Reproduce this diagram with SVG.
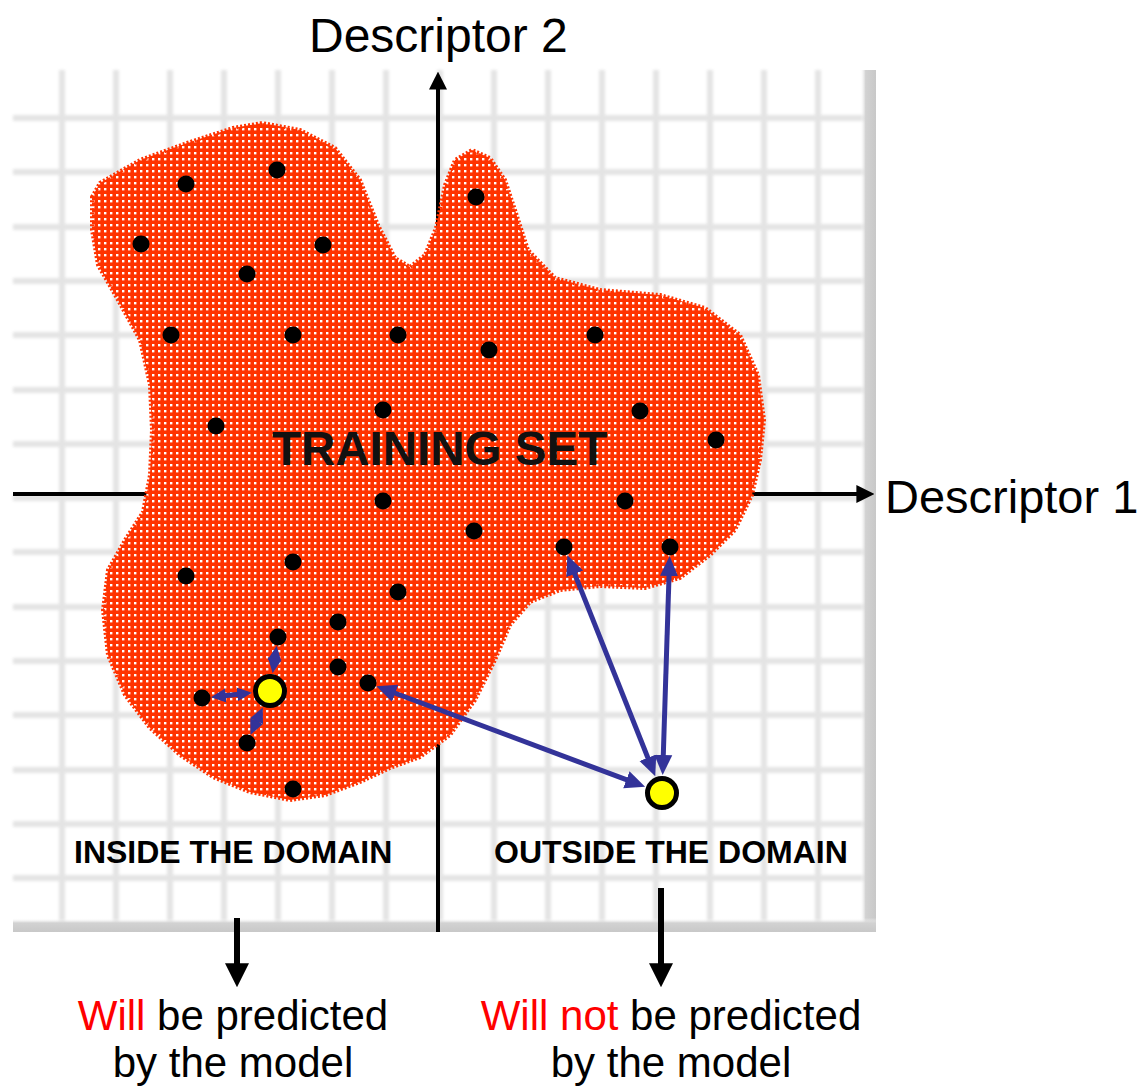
<svg xmlns="http://www.w3.org/2000/svg" width="1140" height="1087" viewBox="0 0 1140 1087">
  <defs>
    <style>
      .lbl { font-family: "Liberation Sans", Arial, sans-serif; fill: #000; }
      .axis-title { font-size: 48px; }
      .domain { font-size: 32px; font-weight: bold; }
      .result { font-size: 42px; text-anchor: middle; }
      .red { fill: #ff0000; }
      .grid line { stroke: #e4e4e4; stroke-width: 6; }
      .axis { stroke: #000; stroke-width: 4; fill: none; }
      .down { stroke: #000; stroke-width: 6; fill: none; }
      .dist { stroke: #333399; stroke-width: 5; fill: none; }
      .pt { fill: #000; }
      .query { fill: #ffff00; stroke: #000; stroke-width: 5; }
    </style>
    <filter id="soft" x="-5%" y="-5%" width="110%" height="110%">
      <feGaussianBlur stdDeviation="1.8"/>
    </filter>
    <pattern id="dots" width="6" height="6" patternUnits="userSpaceOnUse">
      <rect width="6" height="6" fill="#ff3300"/>
      <rect x="2" y="2" width="2.4" height="2.4" fill="#ffffff"/>
    </pattern>
    <linearGradient id="edgeR" x1="0" y1="0" x2="1" y2="0">
      <stop offset="0" stop-color="#ffffff" stop-opacity="0"/>
      <stop offset="0.35" stop-color="#d2d2d2"/>
      <stop offset="1" stop-color="#c8c8c8"/>
    </linearGradient>
    <linearGradient id="edgeB" x1="0" y1="0" x2="0" y2="1">
      <stop offset="0" stop-color="#ffffff" stop-opacity="0"/>
      <stop offset="0.35" stop-color="#d2d2d2"/>
      <stop offset="1" stop-color="#c8c8c8"/>
    </linearGradient>
    <marker id="axHead" viewBox="0 0 10 10" refX="2" refY="5" markerUnits="userSpaceOnUse" markerWidth="18" markerHeight="18" orient="auto">
      <path d="M0,0 L10,5 L0,10 z" fill="#000"/>
    </marker>
    <marker id="downHead" viewBox="0 0 10 10" refX="2" refY="5" markerUnits="userSpaceOnUse" markerWidth="24" markerHeight="24" orient="auto">
      <path d="M0,0 L10,5 L0,10 z" fill="#000"/>
    </marker>
    <marker id="blueHead" viewBox="0 0 20 20" refX="12" refY="10" markerUnits="userSpaceOnUse" markerWidth="20" markerHeight="20" orient="auto-start-reverse">
      <path d="M0,1 L20,10 L0,19 z" fill="#333399"/>
    </marker>
    <marker id="blueHeadSm" viewBox="0 0 15 15" refX="9" refY="7.5" markerUnits="userSpaceOnUse" markerWidth="15" markerHeight="15" orient="auto-start-reverse">
      <path d="M0,0.5 L15,7.5 L0,14.5 z" fill="#333399"/>
    </marker>
  </defs>

  <rect width="1140" height="1087" fill="#ffffff"/>

  <!-- descriptor space: soft grid -->
  <g id="grid">
    <g class="grid" filter="url(#soft)">
      <line x1="62" y1="70" x2="62" y2="925"/>
      <line x1="116" y1="70" x2="116" y2="925"/>
      <line x1="170" y1="70" x2="170" y2="925"/>
      <line x1="224" y1="70" x2="224" y2="925"/>
      <line x1="278" y1="70" x2="278" y2="925"/>
      <line x1="332" y1="70" x2="332" y2="925"/>
      <line x1="386" y1="70" x2="386" y2="925"/>
      <line x1="440" y1="70" x2="440" y2="925"/>
      <line x1="494" y1="70" x2="494" y2="925"/>
      <line x1="548" y1="70" x2="548" y2="925"/>
      <line x1="602" y1="70" x2="602" y2="925"/>
      <line x1="656" y1="70" x2="656" y2="925"/>
      <line x1="710" y1="70" x2="710" y2="925"/>
      <line x1="764" y1="70" x2="764" y2="925"/>
      <line x1="818" y1="70" x2="818" y2="925"/>
      <line x1="13" y1="118" x2="868" y2="118"/>
      <line x1="13" y1="172" x2="868" y2="172"/>
      <line x1="13" y1="227" x2="868" y2="227"/>
      <line x1="13" y1="281" x2="868" y2="281"/>
      <line x1="13" y1="335" x2="868" y2="335"/>
      <line x1="13" y1="390" x2="868" y2="390"/>
      <line x1="13" y1="444" x2="868" y2="444"/>
      <line x1="13" y1="498" x2="868" y2="498"/>
      <line x1="13" y1="552" x2="868" y2="552"/>
      <line x1="13" y1="607" x2="868" y2="607"/>
      <line x1="13" y1="661" x2="868" y2="661"/>
      <line x1="13" y1="715" x2="868" y2="715"/>
      <line x1="13" y1="770" x2="868" y2="770"/>
      <line x1="13" y1="824" x2="868" y2="824"/>
      <line x1="13" y1="878" x2="868" y2="878"/>
    </g>
    <rect x="860" y="70" width="16" height="862" fill="url(#edgeR)"/>
    <rect x="13" y="918" width="863" height="14" fill="url(#edgeB)"/>
  </g>

  <!-- axes -->
  <g id="axes">
    <line class="axis" x1="438" y1="932" x2="438" y2="86" marker-end="url(#axHead)"/>
    <line class="axis" x1="13" y1="494" x2="860" y2="494" marker-end="url(#axHead)"/>
    <text class="lbl axis-title" x="309" y="52">Descriptor 2</text>
    <text class="lbl axis-title" x="885" y="513" style="font-size:47px">Descriptor 1</text>
  </g>

  <!-- training set region -->
  <g id="training-set">
    <path fill="url(#dots)" stroke="#ff3300" stroke-width="4" stroke-dasharray="2 2" stroke-linejoin="round"
      d="M92,197 L100,183 L140,160 L187,143 L233,128 L262,123 L300,130 L335,148 L360,180 L378,225 L395,258 L410,267
         L425,255 L436,228 L445,185 L455,160 L472,150 L490,158 L505,180 L515,210 L528,250 L555,278 L600,290 L660,295
         L705,308 L740,335 L758,375 L764,420 L760,460 L752,495 L735,530 L710,555 L680,578 L645,588 L600,586 L560,590
         L530,602 L510,625 L495,660 L475,700 L450,735 L420,757 L390,768 L360,782 L325,795 L290,800 L250,792 L213,777
         L180,755 L150,728 L125,695 L108,655 L103,610 L108,570 L125,540 L143,512 L150,475 L152,430 L150,385 L140,340
         L118,300 L98,265 L92,230 Z"/>
    <text class="lbl" x="272" y="465" style="font-size:47.5px;font-weight:bold;fill:#111">TRAINING SET</text>
  </g>

  <!-- training compounds -->
  <g id="compounds">
    <circle class="pt" cx="186" cy="184" r="8.5"/>
    <circle class="pt" cx="277" cy="170" r="8.5"/>
    <circle class="pt" cx="476" cy="197" r="8.5"/>
    <circle class="pt" cx="141" cy="244" r="8.5"/>
    <circle class="pt" cx="323" cy="245" r="8.5"/>
    <circle class="pt" cx="247" cy="274" r="8.5"/>
    <circle class="pt" cx="171" cy="335" r="8.5"/>
    <circle class="pt" cx="293" cy="335" r="8.5"/>
    <circle class="pt" cx="398" cy="335" r="8.5"/>
    <circle class="pt" cx="489" cy="350" r="8.5"/>
    <circle class="pt" cx="595" cy="335" r="8.5"/>
    <circle class="pt" cx="216" cy="426" r="8.5"/>
    <circle class="pt" cx="383" cy="410" r="8.5"/>
    <circle class="pt" cx="640" cy="411" r="8.5"/>
    <circle class="pt" cx="716" cy="440" r="8.5"/>
    <circle class="pt" cx="383" cy="501" r="8.5"/>
    <circle class="pt" cx="625" cy="501" r="8.5"/>
    <circle class="pt" cx="474" cy="531" r="8.5"/>
    <circle class="pt" cx="564" cy="547" r="8.5"/>
    <circle class="pt" cx="670" cy="547" r="8.5"/>
    <circle class="pt" cx="293" cy="562" r="8.5"/>
    <circle class="pt" cx="186" cy="576" r="8.5"/>
    <circle class="pt" cx="398" cy="592" r="8.5"/>
    <circle class="pt" cx="338" cy="622" r="8.5"/>
    <circle class="pt" cx="278" cy="637" r="8.5"/>
    <circle class="pt" cx="338" cy="667" r="8.5"/>
    <circle class="pt" cx="368" cy="683" r="8.5"/>
    <circle class="pt" cx="202" cy="698" r="8.5"/>
    <circle class="pt" cx="247" cy="743" r="8.5"/>
    <circle class="pt" cx="293" cy="789" r="8.5"/>
  </g>

  <!-- query compounds -->
  <g id="query-inside">
    <circle class="query" cx="270" cy="691" r="14.5"/>
  </g>
  <g id="query-outside">
    <circle class="query" cx="662" cy="793" r="14.5"/>
  </g>

  <!-- distances from query compounds to their neighbours, and outcome arrows -->
  <g id="connectors">
    <line class="dist" x1="275.8" y1="651.8" x2="273.5" y2="667.3" marker-start="url(#blueHeadSm)" marker-end="url(#blueHeadSm)"/>
    <line class="dist" x1="216.9" y1="696.5" x2="246.1" y2="693.4" marker-start="url(#blueHeadSm)" marker-end="url(#blueHeadSm)"/>
    <line class="dist" x1="253.0" y1="729.3" x2="260.3" y2="713.0" marker-start="url(#blueHeadSm)" marker-end="url(#blueHeadSm)"/>
    <line class="dist" x1="383.9" y1="689.0" x2="637.6" y2="783.9" marker-start="url(#blueHead)" marker-end="url(#blueHead)"/>
    <line class="dist" x1="570.3" y1="562.8" x2="652.3" y2="768.9" marker-start="url(#blueHead)" marker-end="url(#blueHead)"/>
    <line class="dist" x1="669.4" y1="564" x2="662.9" y2="767" marker-start="url(#blueHead)" marker-end="url(#blueHead)"/>
    <line class="down" x1="237" y1="918" x2="237" y2="968" marker-end="url(#downHead)"/>
    <line class="down" x1="661" y1="888" x2="661" y2="968" marker-end="url(#downHead)"/>
  </g>

  <!-- domain labels and outcomes -->
  <g id="inside-label">
    <text class="lbl domain" x="74" y="863">INSIDE THE DOMAIN</text>
    <text class="lbl result" x="233" y="1030"><tspan class="red">Will</tspan> be predicted</text>
    <text class="lbl result" x="233" y="1077">by the model</text>
  </g>
  <g id="outside-label">
    <text class="lbl domain" x="494" y="863">OUTSIDE THE DOMAIN</text>
    <text class="lbl result" x="671" y="1030"><tspan class="red">Will not</tspan> be predicted</text>
    <text class="lbl result" x="671" y="1077">by the model</text>
  </g>
</svg>
